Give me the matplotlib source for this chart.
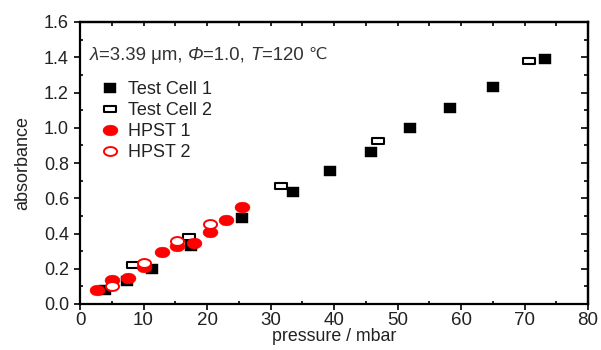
import matplotlib
matplotlib.use("Agg")
import matplotlib.pyplot as plt
from matplotlib.path import Path
import numpy as np

plt.rcParams['font.family'] = ['Liberation Sans', 'DejaVu Sans']

# ---- data ----
tc1_x = [4.0, 7.4, 11.4, 17.5, 25.5, 33.6, 39.4, 45.8, 51.9, 58.3, 65.0, 73.3]
tc1_y = [0.08, 0.13, 0.197, 0.33, 0.487, 0.637, 0.752, 0.865, 0.998, 1.11, 1.233, 1.392]
tc2_x = [8.3, 17.2, 31.6, 46.9, 70.7]
tc2_y = [0.22, 0.38, 0.668, 0.926, 1.377]
hp1_x = [2.6, 5.0, 7.6, 10.0, 12.9, 15.2, 18.0, 20.4, 23.0, 25.5]
hp1_y = [0.08, 0.135, 0.145, 0.21, 0.295, 0.33, 0.345, 0.41, 0.475, 0.55]
hp2_x = [5.0, 10.0, 15.2, 20.4]
hp2_y = [0.10, 0.235, 0.355, 0.455]

labels = ['Test Cell 1', 'Test Cell 2', 'HPST 1', 'HPST 2']
xticks = [0, 10, 20, 30, 40, 50, 60, 70, 80]
yticks = [0.0, 0.2, 0.4, 0.6, 0.8, 1.0, 1.2, 1.4, 1.6]
note_parts = [('λ', 'italic'), ('=3.39 μm, ', 'normal'), ('Φ', 'italic'),
              ('=1.0, ', 'normal'), ('T', 'italic'), ('=120 ', 'normal'), ('℃', 'normal')]


def rect_marker(w, h):
    return Path([(-w / 2, -h / 2), (w / 2, -h / 2), (w / 2, h / 2), (-w / 2, h / 2), (-w / 2, -h / 2)],
                [Path.MOVETO, Path.LINETO, Path.LINETO, Path.LINETO, Path.CLOSEPOLY])


def ellipse_marker(w, h):
    t = np.linspace(0, 2 * np.pi, 60)
    verts = np.column_stack([w / 2 * np.cos(t), h / 2 * np.sin(t)])
    return Path(verts, closed=True)


fig = plt.figure(figsize=(6.01, 3.5), dpi=100)
ax = fig.add_axes([80 / 601, 46 / 350, 508 / 601, 282 / 350])

ax.plot(tc1_x, tc1_y, linestyle='none', marker=rect_marker(1, 0.82), ms=8.6,
        mfc='black', mec='black', mew=0.3, label=labels[0], zorder=3)
ax.plot(tc2_x, tc2_y, linestyle='none', marker=rect_marker(1, 0.5), ms=8.6,
        mfc='white', mec='black', mew=1.5, label=labels[1], zorder=3)
ax.plot(hp1_x, hp1_y, linestyle='none', marker=ellipse_marker(1, 0.72), ms=10.8,
        mfc='#ff0000', mec='#ff0000', mew=0.3, label=labels[2], zorder=4)
ax.plot(hp2_x, hp2_y, linestyle='none', marker=ellipse_marker(1, 0.68), ms=9.4,
        mfc='white', mec='#ff0000', mew=1.4, label=labels[3], zorder=4)

ax.set_xlim(0, 80)
ax.set_ylim(0, 1.6)
ax.set_xticks(xticks)
ax.set_yticks(yticks)
ax.set_xticklabels([str(v) for v in xticks])
ax.set_yticklabels([f'{v:.1f}' for v in yticks])
ax.set_xticks(np.arange(5, 80, 10), minor=True)
ax.set_yticks(np.arange(0.1, 1.6, 0.2), minor=True)

for s in ax.spines.values():
    s.set_linewidth(1.6)
    s.set_color('black')

ax.tick_params(which='major', direction='out', length=4, width=1.2, labelsize=13.5,
               top=False, right=False, labelcolor='#222222')
ax.tick_params(axis='x', which='major', pad=1.5)
ax.tick_params(axis='y', which='major', labelsize=13, pad=4)
ax.tick_params(which='minor', direction='in', length=2.5, width=1.2, top=False, right=False)

secx = ax.secondary_xaxis('top')
secx.set_xticks(np.arange(5, 80, 5))
secx.tick_params(direction='in', length=3, width=1.2, labeltop=False)
secx.spines['top'].set_linewidth(1.6)
secy = ax.secondary_yaxis('right')
secy.set_yticks(yticks[1:-1])
secy.set_yticks(np.arange(0.1, 1.6, 0.2), minor=True)
secy.tick_params(which='major', direction='in', length=5, width=1.2, labelright=False)
secy.tick_params(which='minor', direction='in', length=3, width=1.2, labelright=False)
secy.spines['right'].set_linewidth(1.6)

ax.set_xlabel('pressure / mbar', fontsize=12.8, labelpad=-0.5, color='#222222')
ax.set_ylabel('absorbance', fontsize=13, labelpad=9, color='#222222')

# annotation built from pieces so italics and the ℃ sign render correctly
renderer = fig.canvas.get_renderer()
x_px, y_px = 90, 350 - 53
for txt, style in note_parts:
    fam = ['DejaVu Sans'] if txt == '℃' else ['Liberation Sans', 'DejaVu Sans']
    t = fig.text(x_px / 601, y_px / 350, txt, fontsize=13.4 if txt != '℃' else 11.8,
                 style=style, color='#333333', va='center_baseline', ha='left', family=fam)
    bb = t.get_window_extent(renderer)
    x_px = bb.x1

ax.legend(loc='upper left', bbox_to_anchor=(21 / 508, (304 - 81) / 282), frameon=False,
          fontsize=13, handlelength=1.0, handletextpad=0.5,
          labelspacing=0.23, borderpad=0, borderaxespad=0, labelcolor='#222222')

fig.savefig('out.png', dpi=100)
